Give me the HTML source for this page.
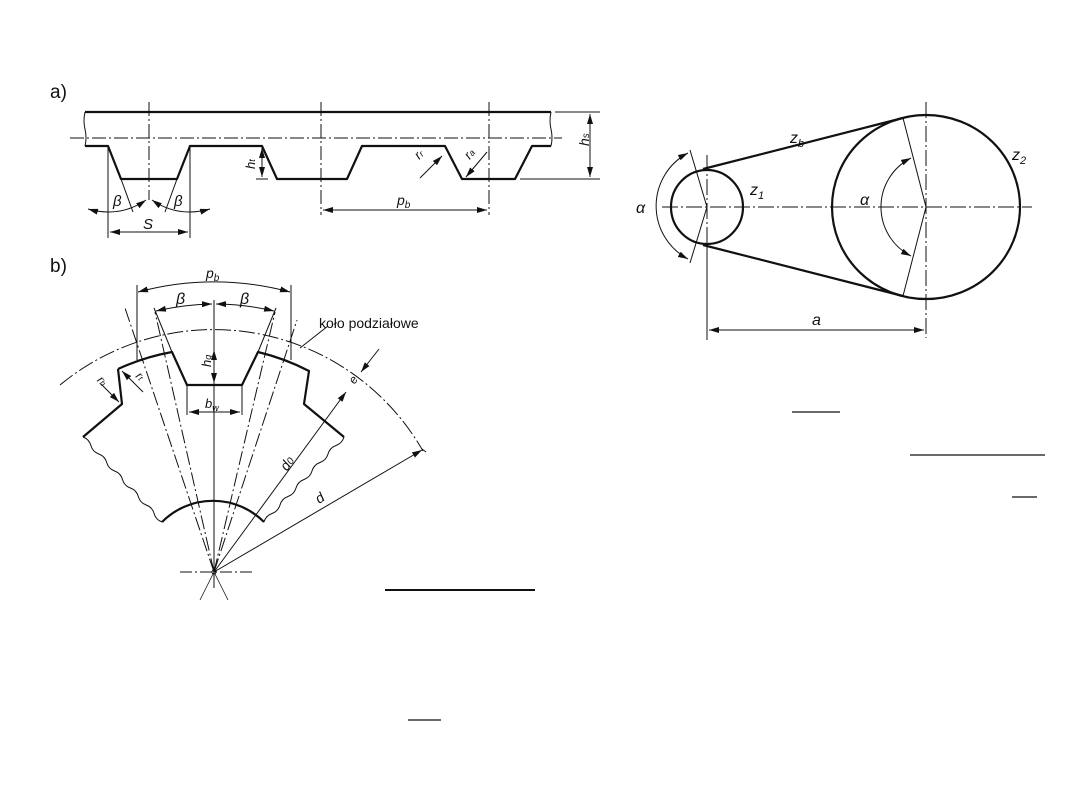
<!DOCTYPE html>
<html><head><meta charset="utf-8"><style>
html,body{margin:0;padding:0;background:#fff;}
svg{display:block;}
text{font-family:"Liberation Sans",sans-serif;fill:#111;}
.it{font-style:italic;}
</style></head><body>
<svg width="1080" height="810" viewBox="0 0 1080 810" xmlns="http://www.w3.org/2000/svg">
<defs>
<marker id="a" viewBox="0 0 10 6" refX="10" refY="3" markerWidth="10" markerHeight="6" orient="auto-start-reverse" markerUnits="userSpaceOnUse"><path d="M0,0 L10,3 L0,6 z" fill="#111"/></marker>
</defs>
<g stroke="#111" fill="none">
<!-- a) belt -->
<text x="50" y="98" font-size="19" stroke="none">a)</text>
<line x1="85" y1="112" x2="551" y2="112" stroke-width="2.2"/>
<line x1="70" y1="138" x2="562" y2="138" stroke-width="1" stroke-dasharray="14,3,2,3"/>
<path d="M85,112 q-2,9 0,17 q2,9 0,17 M551,112 q-2,9 0,17 q2,9 0,17" stroke-width="1"/>
<polyline points="85,146 108,146 121,179 177,179 190,146 262,146 277,179 347,179 362,146 445,146 462,179 515,179 532,146 551,146" stroke-width="2.2" stroke-linejoin="round"/>
<line x1="149" y1="102" x2="149" y2="200" stroke-width="1" stroke-dasharray="14,3,2,3"/>
<line x1="321" y1="102" x2="321" y2="215" stroke-width="1" stroke-dasharray="14,3,2,3"/>
<line x1="489" y1="102" x2="489" y2="215" stroke-width="1" stroke-dasharray="14,3,2,3"/>
<line x1="108" y1="146" x2="108" y2="238" stroke-width="1"/>
<line x1="190" y1="146" x2="190" y2="238" stroke-width="1"/>
<line x1="110" y1="232" x2="188" y2="232" stroke-width="1" marker-start="url(#a)" marker-end="url(#a)"/>
<text x="143" y="229" font-size="15" class="it" stroke="none">S</text>
<line x1="121" y1="179" x2="133" y2="212" stroke-width="1"/>
<line x1="177" y1="179" x2="165" y2="212" stroke-width="1"/>
<path d="M88,209 Q120,218 146,200" stroke-width="1" marker-start="url(#a)" marker-end="url(#a)"/>
<path d="M152,200 Q178,218 210,209" stroke-width="1" marker-start="url(#a)" marker-end="url(#a)"/>
<text x="113" y="206" font-size="15" class="it" stroke="none">β</text>
<text x="174" y="206" font-size="15" class="it" stroke="none">β</text>
<line x1="323" y1="210" x2="487" y2="210" stroke-width="1" marker-start="url(#a)" marker-end="url(#a)"/>
<text x="397" y="205" font-size="14" class="it" stroke="none">p<tspan font-size="10" dy="3">b</tspan></text>
<line x1="256" y1="179" x2="268" y2="179" stroke-width="1"/>
<line x1="262" y1="148" x2="262" y2="177" stroke-width="1" marker-start="url(#a)" marker-end="url(#a)"/>
<text x="244" y="168" font-size="13" class="it" stroke="none" transform="rotate(-90 250 163)">h<tspan font-size="9">t</tspan></text>
<line x1="420" y1="178" x2="442" y2="156" stroke-width="1" marker-end="url(#a)"/>
<text x="416" y="158" font-size="13" class="it" stroke="none" transform="rotate(-45 420 155)">r<tspan font-size="9">r</tspan></text>
<line x1="487" y1="152" x2="466" y2="177" stroke-width="1" marker-end="url(#a)"/>
<text x="466" y="158" font-size="13" class="it" stroke="none" transform="rotate(-50 470 155)">r<tspan font-size="9">a</tspan></text>
<line x1="555" y1="112" x2="600" y2="112" stroke-width="1"/>
<line x1="520" y1="179" x2="600" y2="179" stroke-width="1"/>
<line x1="590" y1="114" x2="590" y2="177" stroke-width="1" marker-start="url(#a)" marker-end="url(#a)"/>
<text x="583" y="152" font-size="14" class="it" stroke="none" transform="rotate(-90 583 146)">h<tspan font-size="10">s</tspan></text>

<!-- b) gear -->
<text x="50" y="272" font-size="19" stroke="none">b)</text>
<path d="M60,385 A241,241 0 0 1 423,451" stroke-width="1" stroke-dasharray="16,3,2,3"/>
<path d="M118,369 A224,224 0 0 1 172,352 L187,385 L242,385 L258,352 A224,224 0 0 1 309,371 L304,404 L344,437" stroke-width="2.2" stroke-linejoin="round"/>
<path d="M118,369 L122,404 L83,437" stroke-width="2.2" stroke-linejoin="round"/>
<path d="M162,522 A72,72 0 0 1 264,522" stroke-width="2.2"/>
<path d="M83,437 q6.1,2.2 7.9,8.5 q1.7,6.3 7.9,8.5 q6.1,2.2 7.9,8.5 q1.7,6.3 7.9,8.5 q6.1,2.2 7.9,8.5 q1.7,6.3 7.9,8.5 q6.1,2.2 7.9,8.5 q1.7,6.3 7.9,8.5 q6.1,2.2 7.9,8.5 q1.7,6.3 7.9,8.5" stroke-width="1"/>
<path d="M344,437 q-1.8,6.25 -8,8.5 q-6.2,2.25 -8,8.5 q-1.8,6.25 -8,8.5 q-6.2,2.25 -8,8.5 q-1.8,6.25 -8,8.5 q-6.2,2.25 -8,8.5 q-1.8,6.25 -8,8.5 q-6.2,2.25 -8,8.5 q-1.8,6.25 -8,8.5 q-6.2,2.25 -8,8.5" stroke-width="1"/>
<line x1="214" y1="572" x2="125" y2="308" stroke-width="1" stroke-dasharray="14,3,2,3"/>
<line x1="214" y1="572" x2="297" y2="320" stroke-width="1" stroke-dasharray="14,3,2,3"/>
<line x1="214" y1="572" x2="155" y2="312" stroke-width="1" stroke-dasharray="14,3,2,3"/>
<line x1="214" y1="572" x2="275" y2="312" stroke-width="1" stroke-dasharray="14,3,2,3"/>
<line x1="214" y1="300" x2="214" y2="588" stroke-width="1"/>
<line x1="180" y1="572" x2="252" y2="572" stroke-width="1" stroke-dasharray="12,3,2,3"/>
<circle cx="214" cy="572" r="2" stroke-width="1"/>
<line x1="214" y1="572" x2="200" y2="600" stroke-width="0.8"/>
<line x1="214" y1="572" x2="228" y2="600" stroke-width="0.8"/>
<line x1="214" y1="572" x2="346" y2="392" stroke-width="1" marker-end="url(#a)"/>
<line x1="214" y1="572" x2="422" y2="450" stroke-width="1" marker-end="url(#a)"/>
<line x1="422" y1="449" x2="426" y2="452" stroke-width="1"/>
<line x1="379" y1="349" x2="361" y2="372" stroke-width="1" marker-end="url(#a)"/>
<text x="352" y="386" font-size="12" class="it" stroke="none" transform="rotate(-55 352 383)">e</text>
<text x="282" y="470" font-size="14" class="it" stroke="none" transform="rotate(-55 286 466)">d<tspan font-size="10">0</tspan></text>
<text x="317" y="503" font-size="14" class="it" stroke="none" transform="rotate(-35 320 500)">d</text>
<line x1="137" y1="285" x2="137" y2="360" stroke-width="1"/>
<line x1="291" y1="285" x2="291" y2="360" stroke-width="1"/>
<path d="M138,292 A289,289 0 0 1 290,292" stroke-width="1" marker-start="url(#a)" marker-end="url(#a)"/>
<text x="206" y="278" font-size="14" class="it" stroke="none">p<tspan font-size="10" dy="3">b</tspan></text>
<line x1="154" y1="308" x2="172" y2="352" stroke-width="1"/>
<line x1="276" y1="308" x2="258" y2="352" stroke-width="1"/>
<path d="M156,311 A269,269 0 0 1 212,304" stroke-width="1" marker-start="url(#a)" marker-end="url(#a)"/>
<path d="M216,304 A269,269 0 0 1 274,311" stroke-width="1" marker-start="url(#a)" marker-end="url(#a)"/>
<text x="176" y="304" font-size="16" class="it" stroke="none">β</text>
<text x="240" y="304" font-size="16" class="it" stroke="none">β</text>
<line x1="214" y1="350" x2="214" y2="383" stroke-width="1" marker-start="url(#a)" marker-end="url(#a)"/>
<text x="206" y="374" font-size="13" class="it" stroke="none" transform="rotate(-90 205 368)">h<tspan font-size="9">g</tspan></text>
<line x1="187" y1="385" x2="187" y2="415" stroke-width="1"/>
<line x1="242" y1="385" x2="242" y2="415" stroke-width="1"/>
<line x1="189" y1="412" x2="240" y2="412" stroke-width="1" marker-start="url(#a)" marker-end="url(#a)"/>
<text x="205" y="408" font-size="13" class="it" stroke="none">b<tspan font-size="9" dy="3">w</tspan></text>
<line x1="101" y1="384" x2="119" y2="402" stroke-width="1" marker-end="url(#a)"/>
<text x="98" y="383" font-size="12" class="it" stroke="none" transform="rotate(45 100 380)">r<tspan font-size="8">b</tspan></text>
<line x1="143" y1="392" x2="122" y2="371" stroke-width="1" marker-end="url(#a)"/>
<text x="137" y="380" font-size="12" class="it" stroke="none" transform="rotate(45 140 376)">r<tspan font-size="8">t</tspan></text>
<line x1="300" y1="348" x2="328" y2="326" stroke-width="1"/>
<text x="319" y="328" font-size="14" stroke="none">koło podziałowe</text>
<line x1="385" y1="590" x2="535" y2="590" stroke-width="2"/>
<line x1="408" y1="720" x2="441" y2="720" stroke-width="1.3"/>

<!-- right pulleys -->
<line x1="662" y1="207" x2="1032" y2="207" stroke-width="1" stroke-dasharray="16,3,2,3"/>
<line x1="707" y1="155" x2="707" y2="338" stroke-width="1" stroke-dasharray="16,3,2,3"/>
<line x1="926" y1="102" x2="926" y2="338" stroke-width="1" stroke-dasharray="16,3,2,3"/>
<ellipse cx="707" cy="207" rx="36" ry="37" stroke-width="2.2"/>
<ellipse cx="926" cy="207" rx="94" ry="92" stroke-width="2.2"/>
<line x1="703" y1="169" x2="903" y2="118" stroke-width="2.2"/>
<line x1="703" y1="245" x2="903" y2="296" stroke-width="2.2"/>
<line x1="690" y1="150" x2="707" y2="207" stroke-width="1"/>
<line x1="707" y1="207" x2="690" y2="263" stroke-width="1"/>
<line x1="903" y1="118" x2="926" y2="207" stroke-width="1"/>
<line x1="926" y1="207" x2="903" y2="296" stroke-width="1"/>
<path d="M688,153 A60,60 0 0 0 688,259" stroke-width="1" marker-start="url(#a)" marker-end="url(#a)"/>
<path d="M911,158 A55,55 0 0 0 911,256" stroke-width="1" marker-start="url(#a)" marker-end="url(#a)"/>
<text x="636" y="213" font-size="16" class="it" stroke="none">α</text>
<text x="860" y="205" font-size="16" class="it" stroke="none">α</text>
<text x="790" y="143" font-size="16" class="it" stroke="none">z<tspan font-size="11" dy="4">b</tspan></text>
<text x="750" y="195" font-size="16" class="it" stroke="none">z<tspan font-size="11" dy="4">1</tspan></text>
<text x="1012" y="160" font-size="16" class="it" stroke="none">z<tspan font-size="11" dy="4">2</tspan></text>
<line x1="707" y1="245" x2="707" y2="340" stroke-width="1"/>
<line x1="709" y1="330" x2="924" y2="330" stroke-width="1" marker-start="url(#a)" marker-end="url(#a)"/>
<text x="812" y="325" font-size="16" class="it" stroke="none">a</text>
<line x1="792" y1="412" x2="840" y2="412" stroke-width="1.3"/>
<line x1="910" y1="455" x2="1045" y2="455" stroke-width="1.3"/>
<line x1="1012" y1="497" x2="1037" y2="497" stroke-width="1.3"/>
</g>
</svg>
</body></html>
